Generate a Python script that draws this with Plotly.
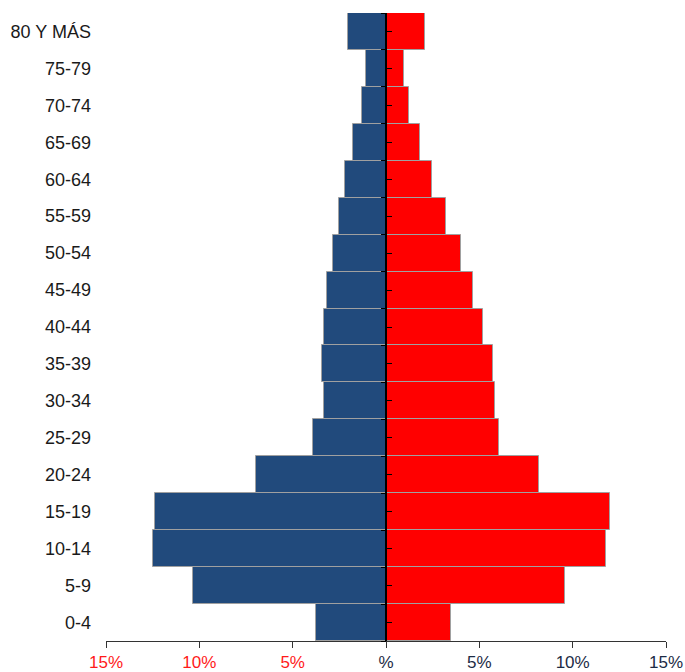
import plotly.graph_objects as go

age_groups = ["0-4", "5-9", "10-14", "15-19", "20-24", "25-29", "30-34", "35-39",
              "40-44", "45-49", "50-54", "55-59", "60-64", "65-69", "70-74", "75-79", "80 Y MÁS"]
male_pct = [3.75, 10.35, 12.5, 12.4, 6.95, 3.93, 3.33, 3.42, 3.33, 3.15, 2.84, 2.52, 2.2,
            1.77, 1.28, 1.07, 2.04]
female_pct = [3.5, 9.6, 11.8, 12.0, 8.2, 6.05, 5.85, 5.75, 5.2, 4.65, 4.0, 3.22, 2.48,
              1.8, 1.25, 0.97, 2.1]
x_tick_vals = [-15, -10, -5, 0, 5, 10, 15]
x_tick_text = ["15%", "10%", "5%", "%", "5%", "10%", "15%"]

LEFT_COLOR = "#ff1a1a"
RIGHT_COLOR = "#1c2b45"
ticktext = [
    f"<span style='color:{LEFT_COLOR if v < 0 else RIGHT_COLOR}'>{t}</span>"
    for v, t in zip(x_tick_vals, x_tick_text)
]

fig = go.Figure()
fig.add_trace(go.Bar(
    y=age_groups, x=[-v for v in male_pct], orientation="h",
    marker=dict(color="#214a7c", line=dict(color="#a0a0a0", width=1)),
    name="Hombres", hoverinfo="skip",
))
fig.add_trace(go.Bar(
    y=age_groups, x=female_pct, orientation="h",
    marker=dict(color="#ff0000", line=dict(color="#a0a0a0", width=1)),
    name="Mujeres", hoverinfo="skip",
))
# invisible helper traces so the central axes are drawn
for ax in ["y2", "y3"]:
    fig.add_trace(go.Scatter(y=age_groups, x=[0] * len(age_groups), yaxis=ax,
                             mode="markers", marker=dict(opacity=0),
                             showlegend=False, hoverinfo="skip"))

n = len(age_groups)
yrange = [-0.5, n - 0.5]
font_family = "Liberation Sans, Arial, sans-serif"

fig.update_layout(
    width=685, height=672,
    margin=dict(l=106, r=19, t=13, b=31),
    paper_bgcolor="white", plot_bgcolor="white",
    barmode="relative", bargap=0,
    showlegend=False,
    font=dict(family=font_family, size=17, color="#1a1a1a"),
    xaxis=dict(
        range=[-15, 15], tickvals=x_tick_vals, ticktext=ticktext,
        showgrid=False, zeroline=False, showline=True, linecolor="#333333",
        linewidth=1, ticks="outside", ticklen=6, tickcolor="#333333",
        tickfont=dict(size=17), fixedrange=True, automargin=False,
    ),
    yaxis=dict(
        type="category", categoryorder="array", categoryarray=age_groups,
        range=yrange, showgrid=False, zeroline=False, showline=False,
        ticks="", tickfont=dict(size=18, color="#1a1a1a"), ticklabelstandoff=14,
        automargin=False,
    ),
    yaxis2=dict(
        type="category", categoryorder="array", categoryarray=age_groups,
        range=yrange, overlaying="y", anchor="free", position=0.5, side="right",
        showgrid=False, zeroline=False, showline=True, linecolor="black", linewidth=1.5,
        ticks="outside", ticklen=5, tickcolor="black", showticklabels=False,
        automargin=False,
    ),
    yaxis3=dict(
        type="category", categoryorder="array", categoryarray=age_groups,
        range=yrange, overlaying="y", anchor="free", position=0.5, side="left",
        showgrid=False, zeroline=False, showline=False,
        ticks="outside", tickson="boundaries", ticklen=5, tickcolor="black",
        showticklabels=False, automargin=False,
    ),
)

fig.write_html("out.html", config={"displayModeBar": False},
               post_script="document.body.style.margin='0';document.body.style.overflow='hidden';")
